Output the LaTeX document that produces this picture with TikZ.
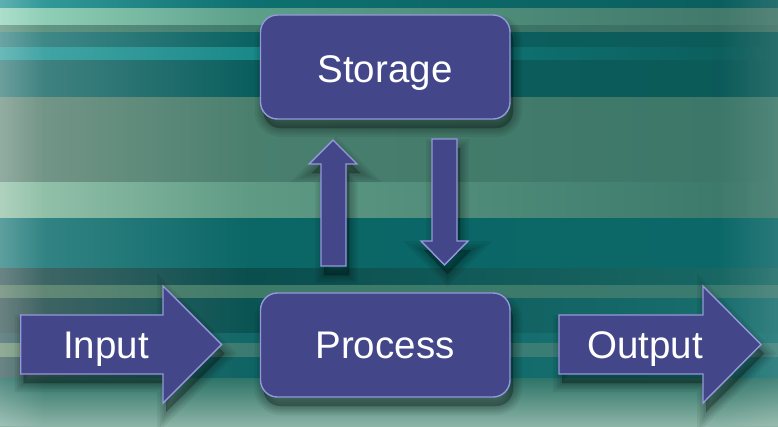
\documentclass[tikz,border=0pt]{standalone}
\usepackage{fontspec}
\setmainfont{Liberation Sans}
\usetikzlibrary{fadings,calc}
\definecolor{boxfill}{HTML}{43478A}
\definecolor{boxedge}{HTML}{9598DA}
\definecolor{bgA}{HTML}{2E7468}
\definecolor{bgB}{HTML}{8CB4A6}
\tikzset{
  blockshape/.style={fill=boxfill, draw=boxedge, line width=1.4pt, line join=miter},
  roundbox/.style={blockshape, rounded corners=17pt},
  shadowlayer/.style={fill=black, draw=black, fill opacity=0.06, draw opacity=0.06, shift={(3,9)}},
  lbl/.style={text=white, font=\fontsize{38.5}{40}\selectfont, inner sep=0pt, anchor=base}
}
\newcommand\bgband[6]{%
  \definecolor{bandL}{HTML}{#3}\definecolor{bandM}{HTML}{#4}\definecolor{bandR}{HTML}{#5}%
  \shade[left color=bandL, right color=bandM] (0,#1) rectangle (#6,#2);
  \shade[left color=bandM, right color=bandR] (#6-0.5,#1) rectangle (778,#2);}
\newcommand\softshadow[2][]{%
  \foreach \w in {18,13,9,5,1}{\path[shadowlayer, line width=\w pt, #1] #2;}}
\def\pStorage{(260.5,15) rectangle (510,119)}
\def\pProcess{(260.5,293) rectangle (510,397)}
\def\pUp{(321,266) -- (321,164) -- (309,164) -- (333,140) -- (357,164) -- (346,164) -- (346,266) -- cycle}
\def\pDown{(432,139) -- (457,139) -- (457,241) -- (468,241) -- (444.5,265) -- (421,241) -- (432,241) -- cycle}
\def\pIn{(20.7,315) -- (163,315) -- (163,286) -- (221.7,344.5) -- (163,403) -- (163,374) -- (20.7,374) -- cycle}
\def\pOut{(559,315) -- (703,315) -- (703,286) -- (761,344.5) -- (703,403) -- (703,374) -- (559,374) -- cycle}
\begin{document}
\begin{tikzpicture}[x=1pt,y=-1pt]
\useasboundingbox (0,0) rectangle (778,426);
% background stripes: {top}{bottom}{left}{middle}{right}{x of middle}
\bgband{0}{8}{3AA0A0}{0E7070}{0A5C5C}{250}
\bgband{8}{25}{9AD8C0}{5CA08A}{3E7466}{250}
\bgband{25}{32}{6A9A88}{3E7A6A}{3A6E62}{250}
\bgband{32}{47}{4A9090}{0C6262}{0B5A58}{250}
\bgband{47}{60}{4AAAAA}{108282}{0B5A58}{300}
\bgband{60}{97}{4A8A88}{0B5E5E}{0B5A58}{250}
\bgband{97}{182}{7A9A8C}{4A7F6E}{3A7668}{250}
\bgband{182}{218}{9CC8B0}{5E9A84}{3A7668}{250}
\bgband{218}{268}{3A8A8A}{0B6666}{0C6868}{250}
\bgband{268}{285}{4A6A6A}{0A4E4E}{1A6A66}{250}
\bgband{285}{298}{6A8A78}{3E7A68}{3A7A70}{250}
\bgband{298}{333}{4A6666}{0A5454}{1A7070}{250}
\bgband{333}{343}{4A6E6E}{106868}{1A7272}{250}
\bgband{343}{357}{7A9A80}{3A7A70}{3A8078}{250}
\bgband{357}{378}{4A6A6A}{0E6464}{1A7272}{250}
\shade[top color=bgA, bottom color=bgB] (0,378) rectangle (778,426);
\fill[white, opacity=0.18, path fading=east] (0,0) rectangle (45,426);
\fill[white, opacity=0.12, path fading=west] (718,0) rectangle (778,426);

% shadows
\softshadow[rounded corners=17pt]{\pStorage}
\softshadow[rounded corners=17pt]{\pProcess}
\softshadow{\pUp}
\softshadow{\pDown}
\softshadow{\pIn}
\softshadow{\pOut}

% boxes
\draw[roundbox] \pStorage;
\draw[roundbox] \pProcess;
\node[lbl] (storage) at (385,82) {Storage};
\node[lbl] (process) at (385,358.5) {Process};

% vertical arrows between process and storage
\draw[blockshape] \pUp;
\draw[blockshape] \pDown;

% input / output arrows
\draw[blockshape] \pIn;
\draw[blockshape] \pOut;
\node[lbl] (input) at (106,358.5) {Input};
\node[lbl] (output) at (645,358.5) {Output};
\end{tikzpicture}
\end{document}
